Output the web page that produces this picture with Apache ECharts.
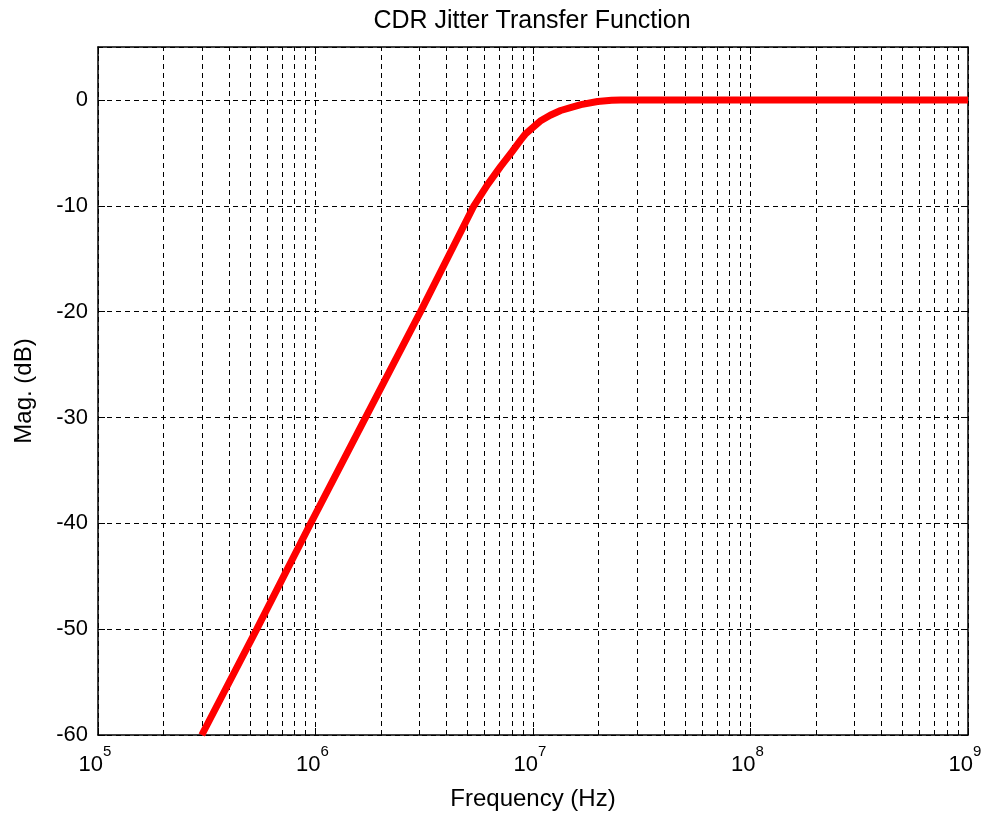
<!DOCTYPE html>
<html>
<head>
<meta charset="utf-8">
<script src="https://cdn.jsdelivr.net/npm/echarts@6/dist/echarts.min.js"></script>
<style>
  html, body { margin: 0; padding: 0; background: #fff; }
  #chart { width: 988px; height: 818px; }
</style>
</head>
<body>
<div id="chart"></div>
<script>
// values
const freqHz = [3.0e5, 5.37e5, 9.5e5, 1.70e6, 3.04e6, 5.35e6, 6.18e6, 7.09e6, 8.0e6, 8.77e6,
  9.25e6, 1.0e7, 1.08e7, 1.2e7, 1.34e7, 1.5e7, 1.66e7, 1.98e7, 2.3e7, 2.53e7, 1e8, 1e9];
const magDb = [-60, -50, -40, -30, -20, -10, -8, -6.3, -4.9, -3.8,
  -3.2, -2.6, -2.0, -1.45, -1.0, -0.7, -0.45, -0.15, -0.03, 0, 0, 0];

// minor log grid positions (2..9 x each decade)
const minorTicks = [];
[1e5, 1e6, 1e7, 1e8].forEach((d) => {
  [2, 3, 4, 5, 6, 7, 8, 9].forEach((k) => minorTicks.push(k * d));
});

const yTicks = { min: -60, max: 5, interval: 10 };

const chart = echarts.init(document.getElementById('chart'));

const font = 'Liberation Sans, Arial, sans-serif';
const dash = [5, 4];

const option = {
  animation: false,
  title: {
    text: 'CDR Jitter Transfer Function',
    left: 527,
    textAlign: 'center',
    top: 4,
    textStyle: { fontFamily: font, fontSize: 25, fontWeight: 'normal', color: '#000' },
  },
  grid: { left: 98, right: 20, top: 47, bottom: 83, outerBoundsMode: 'none' },
  xAxis: [
    {
      type: 'log',
      logBase: 10,
      min: 1e5,
      max: 1e9,
      name: 'Frequency (Hz)',
      nameLocation: 'middle',
      nameGap: 52,
      nameTextStyle: { fontFamily: font, fontSize: 24, color: '#000' },
      axisLine: { onZero: false, lineStyle: { color: '#000', width: 1.5 } },
      axisTick: { inside: true, length: 7, lineStyle: { color: '#000' } },
      axisLabel: {
        margin: 9,
        formatter: (v) => '{b|10}{s|' + Math.round(Math.log10(v)) + '}',
        rich: {
          b: { fontFamily: font, fontSize: 22, color: '#000', padding: [10, 0, 0, 0] },
          s: { fontFamily: font, fontSize: 15, color: '#000', verticalAlign: 'top', padding: [0, 6, 0, 0] },
        },
      },
      splitLine: { show: true, lineStyle: { color: '#000', type: dash, width: 1 } },
    },
    {
      type: 'log',
      logBase: 10,
      min: 1e5,
      max: 1e9,
      position: 'top',
      axisLine: { show: true, onZero: false, lineStyle: { color: '#000', width: 1.5 } },
      axisTick: { show: true, inside: true, length: 7, lineStyle: { color: '#000' } },
      axisLabel: { show: false },
      splitLine: { show: false },
    },
  ],
  yAxis: [
    {
      type: 'value',
      min: yTicks.min,
      max: yTicks.max,
      interval: yTicks.interval,
      name: 'Mag. (dB)',
      nameLocation: 'middle',
      nameGap: 62,
      nameTextStyle: { fontFamily: font, fontSize: 24, color: '#000' },
      axisLine: { show: true, onZero: false, lineStyle: { color: '#000', width: 1.5 } },
      axisTick: { show: true, inside: true, length: 7, lineStyle: { color: '#000' } },
      axisLabel: {
        showMaxLabel: false,
        margin: 10,
        fontFamily: font,
        fontSize: 22,
        color: '#000',
      },
      splitLine: { show: true, lineStyle: { color: '#000', type: dash, width: 1 } },
    },
    {
      type: 'value',
      min: yTicks.min,
      max: yTicks.max,
      interval: yTicks.interval,
      position: 'right',
      axisLine: { show: true, onZero: false, lineStyle: { color: '#000', width: 1.5 } },
      axisTick: { show: true, inside: true, length: 7, lineStyle: { color: '#000' } },
      axisLabel: { show: false },
      splitLine: { show: false },
    },
  ],
  series: [
    {
      name: 'minor grid',
      type: 'line',
      data: [],
      markLine: {
        silent: true,
        symbol: 'none',
        label: { show: false },
        lineStyle: { color: '#000', type: dash, width: 1 },
        data: minorTicks.map((v) => ({ xAxis: v })),
      },
    },
    {
      name: 'Magnitude',
      type: 'line',
      data: freqHz.map((f, i) => [f, magDb[i]]),
      showSymbol: false,
      lineStyle: { color: '#ff0000', width: 7 },
      z: 5,
    },
  ],
};

chart.setOption(option);
</script>
</body>
</html>
